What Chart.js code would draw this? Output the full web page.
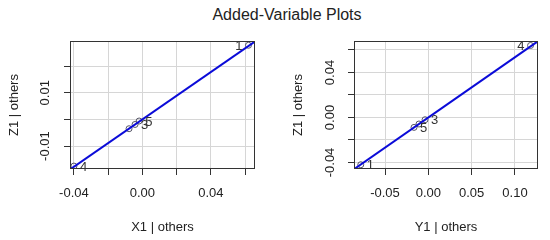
<!DOCTYPE html>
<html><head><meta charset="utf-8">
<script src="https://cdn.jsdelivr.net/npm/chart.js@4"></script>
<style>
html,body{margin:0;padding:0;background:#fff;}
#wrap{position:relative;width:550px;height:240px;overflow:hidden;background:#fff;}
#title{position:absolute;left:0;top:7px;width:574px;text-align:center;font:16px "Liberation Sans",Arial,sans-serif;line-height:16px;color:#222;}
.pane{position:absolute;top:0;width:275px;height:240px;}
</style></head><body>
<div id="wrap">
<div id="title">Added-Variable Plots</div>
<div class="pane" style="left:0"><canvas id="c1" width="275" height="240"></canvas></div>
<div class="pane" style="left:275px"><canvas id="c2" width="275" height="240"></canvas></div>
</div>
<script>
// ---- data ----
const obsNames = ['1', '2', '3', '4', '5'];

// Left panel: X1 | others vs Z1 | others
const leftX = [0.062, -0.0078, -0.0043, -0.040, -0.0019];
const leftY = [0.0278, -0.0035, -0.0019, -0.0175, -0.0006];
const leftShown = ['1', '', '3', '4', '5'];
const leftSlope = 0.444;
const leftXRange = [-0.0423, 0.0658];
const leftYRange = [-0.0186, 0.0294];
const leftXTicks = [-0.04, -0.02, 0, 0.02, 0.04, 0.06];
const leftXTickLabels = ['-0.04', '', '0.00', '', '0.04', ''];
const leftYTicks = [-0.01, 0, 0.01, 0.02];
const leftYTickLabels = ['-0.01', '', '0.01', ''];

// Right panel: Y1 | others vs Z1 | others
const rightX = [-0.078, -0.0108, -0.0038, 0.118, -0.0165];
const rightY = [-0.042, -0.0058, -0.0020, 0.0640, -0.0088];
const rightShown = ['1', '', '3', '4', '5'];
const rightSlope = 0.536;
const rightXRange = [-0.0858, 0.1266];
const rightYRange = [-0.0458, 0.068];
const rightXTicks = [-0.05, 0, 0.05, 0.10];
const rightXTickLabels = ['-0.05', '0.00', '0.05', '0.10'];
const rightYTicks = [-0.04, -0.02, 0, 0.02, 0.04, 0.06];
const rightYTickLabels = ['-0.04', '', '0.00', '', '0.04', ''];

// ---- drawing ----
const FONT = '"Liberation Sans", Arial, sans-serif';
const TXT = '#222';

const boxPlugin = {
  id: 'box',
  afterDraw(chart) {
    const a = chart.chartArea, ctx = chart.ctx;
    ctx.save();
    ctx.strokeStyle = '#333';
    ctx.lineWidth = 1;
    ctx.strokeRect(Math.floor(a.left) + 0.5, Math.floor(a.top) + 0.5,
      Math.round(a.right - a.left) - 1, Math.round(a.bottom - a.top) - 1);
    ctx.restore();
  }
};

const labelPlugin = {
  id: 'ptlabels',
  afterDatasetsDraw(chart) {
    const ds = chart.data.datasets[1];
    const meta = chart.getDatasetMeta(1);
    const xs = ds.data.map(p => p.x);
    const mid = (Math.min(...xs) + Math.max(...xs)) / 2;
    const ctx = chart.ctx;
    ctx.save();
    ctx.font = '13px ' + FONT;
    ctx.fillStyle = '#333';
    ctx.textBaseline = 'middle';
    meta.data.forEach((el, i) => {
      const lab = ds.shown[i];
      if (!lab) return;
      if (ds.data[i].x > mid) { ctx.textAlign = 'right'; ctx.fillText(lab, el.x - 6, el.y + 1); }
      else { ctx.textAlign = 'left'; ctx.fillText(lab, el.x + 6, el.y + 1); }
    });
    ctx.restore();
  }
};

function makeChart(id, c) {
  return new Chart(document.getElementById(id), {
    type: 'scatter',
    data: {
      datasets: [
        {
          type: 'line',
          data: [{ x: c.xr[0], y: c.slope * c.xr[0] }, { x: c.xr[1], y: c.slope * c.xr[1] }],
          borderColor: '#0b0bd8', borderWidth: 2, pointRadius: 0, fill: false, tension: 0
        },
        {
          data: c.x.map((v, i) => ({ x: v, y: c.y[i] })),
          shown: c.shown,
          pointRadius: 3, pointBackgroundColor: 'rgba(0,0,0,0)',
          pointBorderColor: '#556', pointBorderWidth: 1
        }
      ]
    },
    options: {
      responsive: false, animation: false, devicePixelRatio: 1,
      layout: { padding: { left: 0, top: 41, right: c.padR, bottom: 0 } },
      plugins: { legend: { display: false }, tooltip: { enabled: false } },
      scales: {
        x: {
          type: 'linear', min: c.xr[0], max: c.xr[1],
          afterBuildTicks: s => { s.ticks = c.xt.map(v => ({ value: v })); },
          afterFit: s => { s.height = 71; },
          ticks: {
            autoSkip: false, minRotation: 0, maxRotation: 0, padding: 11,
            color: TXT, font: { family: FONT, size: 13 },
            callback: (v, i) => c.xl[i]
          },
          grid: { color: '#d6d6d6', tickColor: '#333', tickLength: 6, lineWidth: 1 },
          border: { display: false },
          title: { display: true, text: c.xTitle, color: TXT, font: { family: FONT, size: 13 }, padding: { top: 0, bottom: 5 } }
        },
        y: {
          type: 'linear', min: c.yr[0], max: c.yr[1],
          afterBuildTicks: s => { s.ticks = c.yt.map(v => ({ value: v })); },
          afterFit: s => { s.width = c.yw; },
          ticks: {
            autoSkip: false, minRotation: 90, maxRotation: 90, crossAlign: 'center', padding: c.yPad,
            color: TXT, font: { family: FONT, size: 13 },
            callback: (v, i) => c.yl[i]
          },
          grid: { color: '#d6d6d6', tickColor: '#333', tickLength: 6, lineWidth: 1 },
          border: { display: false },
          title: { display: true, text: 'Z1 | others', color: TXT, font: { family: FONT, size: 13 }, padding: { top: c.yTitlePad, bottom: 0 } }
        }
      }
    },
    plugins: [boxPlugin, labelPlugin]
  });
}

makeChart('c1', {
  x: leftX, y: leftY, shown: leftShown, slope: leftSlope,
  xr: leftXRange, yr: leftYRange, xt: leftXTicks, xl: leftXTickLabels,
  yt: leftYTicks, yl: leftYTickLabels, xTitle: 'X1 | others',
  padR: 20, yw: 70, yPad: 4, yTitlePad: 7
});
makeChart('c2', {
  x: rightX, y: rightY, shown: rightShown, slope: rightSlope,
  xr: rightXRange, yr: rightYRange, xt: rightXTicks, xl: rightXTickLabels,
  yt: rightYTicks, yl: rightYTickLabels, xTitle: 'Y1 | others',
  padR: 12, yw: 79, yPad: 3, yTitlePad: 16
});
</script>
</body></html>
